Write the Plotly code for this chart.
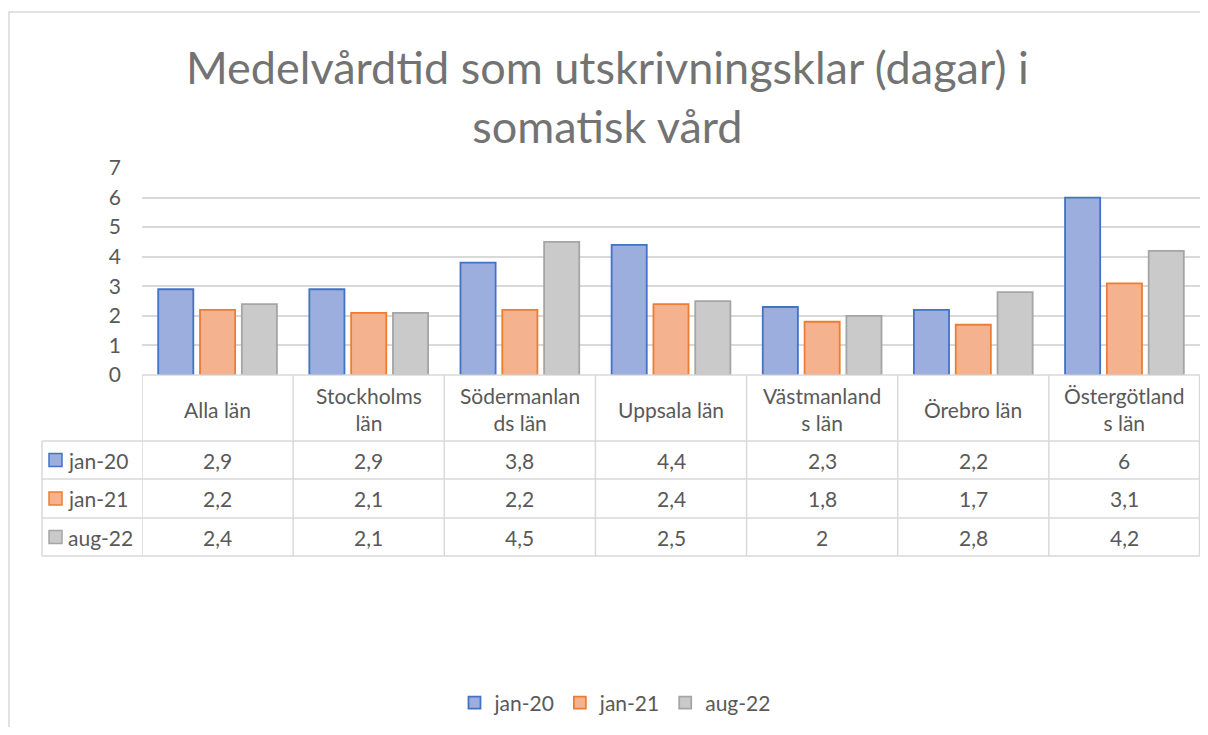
import plotly.graph_objects as go

# ---- data ----
categories = ["Alla län", "Stockholms<br>län", "Södermanlan<br>ds län", "Uppsala län",
              "Västmanland<br>s län", "Örebro län", "Östergötland<br>s län"]
series_names = ["jan-20", "jan-21", "aug-22"]
jan20 = [2.9, 2.9, 3.8, 4.4, 2.3, 2.2, 6.0]
jan21 = [2.2, 2.1, 2.2, 2.4, 1.8, 1.7, 3.1]
aug22 = [2.4, 2.1, 4.5, 2.5, 2.0, 2.8, 4.2]
y_ticks = [0, 1, 2, 3, 4, 5, 6, 7]
title_text = "Medelvårdtid som utskrivningsklar (dagar) i<br>somatisk vård"

# ---- styling ----
OFF = 8  # page body margin in the browser
W, H = 1208 - 2 * OFF, 735 - 2 * OFF
# plot area in screen pixels
SX0, SX1, SY0, SY1 = 142, 1200, 168, 375
L, T = SX0 - OFF, SY0 - OFF
R = W - (SX1 - OFF)
B = H - (SY1 - OFF)
PW, PH = W - L - R, H - T - B
FONT = "Lato"
TXT = "#595959"
GRID = "#D9D9D9"
fills = ["#9BAEDD", "#F5B28F", "#CACACA"]
edges = ["#4472C4", "#ED7D31", "#A5A5A5"]
series_vals = [jan20, jan21, aug22]


def px_x(px):
    return (px - SX0) / PW


def px_y(py):
    return (SY1 - py) / PH


xpos = list(range(len(categories)))

fig = go.Figure()
for name, vals, fc, ec in zip(series_names, series_vals, fills, edges):
    fig.add_trace(go.Bar(
        x=xpos, y=vals, name=name,
        marker=dict(color=fc, line=dict(color=ec, width=1.8)),
        hoverinfo="y",
    ))

shapes = []
annotations = []

# outer chart border
shapes.append(dict(type="rect", xref="paper", yref="paper",
                   x0=px_x(9), x1=px_x(1240), y0=px_y(12), y1=px_y(770),
                   line=dict(color=GRID, width=1.5), fillcolor="rgba(0,0,0,0)", layer="below"))

# data table geometry (screen pixel rows)
row_edges = [375, 441, 479, 518, 556]
left_px = 42
shapes.append(dict(type="line", xref="paper", yref="paper", x0=0, x1=1,
                   y0=px_y(row_edges[0]), y1=px_y(row_edges[0]),
                   line=dict(color=GRID, width=1.5)))
for ry in row_edges[1:]:
    shapes.append(dict(type="line", xref="paper", yref="paper", x0=px_x(left_px), x1=1,
                       y0=px_y(ry), y1=px_y(ry), line=dict(color=GRID, width=1.5)))
shapes.append(dict(type="line", xref="paper", yref="paper", x0=px_x(left_px), x1=px_x(left_px),
                   y0=px_y(row_edges[1]), y1=px_y(row_edges[-1]), line=dict(color=GRID, width=1.5)))
for i in range(len(categories) + 1):
    xv = min(i - 0.5, len(categories) - 0.5 - 0.003)
    shapes.append(dict(type="line", xref="x", yref="paper", x0=xv, x1=xv,
                       y0=px_y(row_edges[0]), y1=px_y(row_edges[-1]),
                       line=dict(color=GRID, width=1.5)))

# header texts
for i, c in enumerate(categories):
    annotations.append(dict(x=i, y=px_y((row_edges[0] + row_edges[1]) / 2 + 1), xref="x", yref="paper",
                            text=c, showarrow=False, font=dict(family=FONT, size=21, color=TXT),
                            xanchor="center", yanchor="middle", align="center"))

# data rows
for r, (name, vals, fc, ec) in enumerate(zip(series_names, series_vals, fills, edges)):
    cy = (row_edges[r + 1] + row_edges[r + 2]) / 2
    shapes.append(dict(type="rect", xref="paper", yref="paper",
                       x0=px_x(49), x1=px_x(62), y0=px_y(cy - 6.5), y1=px_y(cy + 6.5),
                       fillcolor=fc, line=dict(color=ec, width=1.5)))
    annotations.append(dict(x=px_x(66), y=px_y(cy), xref="paper", yref="paper",
                            text=name, showarrow=False, font=dict(family=FONT, size=21, color=TXT),
                            xanchor="left", yanchor="middle"))
    for i, v in enumerate(vals):
        annotations.append(dict(x=i, y=px_y(cy), xref="x", yref="paper",
                                text=f"{v:g}".replace(".", ","), showarrow=False,
                                font=dict(family=FONT, size=21, color=TXT),
                                xanchor="center", yanchor="middle"))

# title
annotations.append(dict(x=px_x(607), y=px_y(96), xref="paper", yref="paper",
                        text=title_text, showarrow=False,
                        font=dict(family=FONT, size=45, color="#737373"),
                        xanchor="center", yanchor="middle", align="center"))

fig.update_layout(
    width=W, height=H,
    margin=dict(l=L, r=R, t=T, b=B, pad=0),
    paper_bgcolor="white", plot_bgcolor="white",
    barmode="group", bargap=0.17, bargroupgap=0.16,
    font=dict(family=FONT, size=21, color=TXT),
    showlegend=True,
    legend=dict(orientation="h", x=px_x(615), xanchor="center", y=px_y(703), yanchor="middle",
                font=dict(family=FONT, size=21, color=TXT), itemwidth=30, traceorder="normal",
                bgcolor="rgba(0,0,0,0)"),
    xaxis=dict(range=[-0.5, len(categories) - 0.5], showticklabels=False, showgrid=False,
               zeroline=False, showline=False, fixedrange=True),
    yaxis=dict(range=[0, 7], tickvals=y_ticks, showgrid=True, gridcolor=GRID, gridwidth=1.5,
               zeroline=False, showline=False, ticks="", ticklabelstandoff=20,
               tickfont=dict(family=FONT, size=21, color=TXT), fixedrange=True),
    shapes=shapes, annotations=annotations,
)

fig.write_html("out.html")
